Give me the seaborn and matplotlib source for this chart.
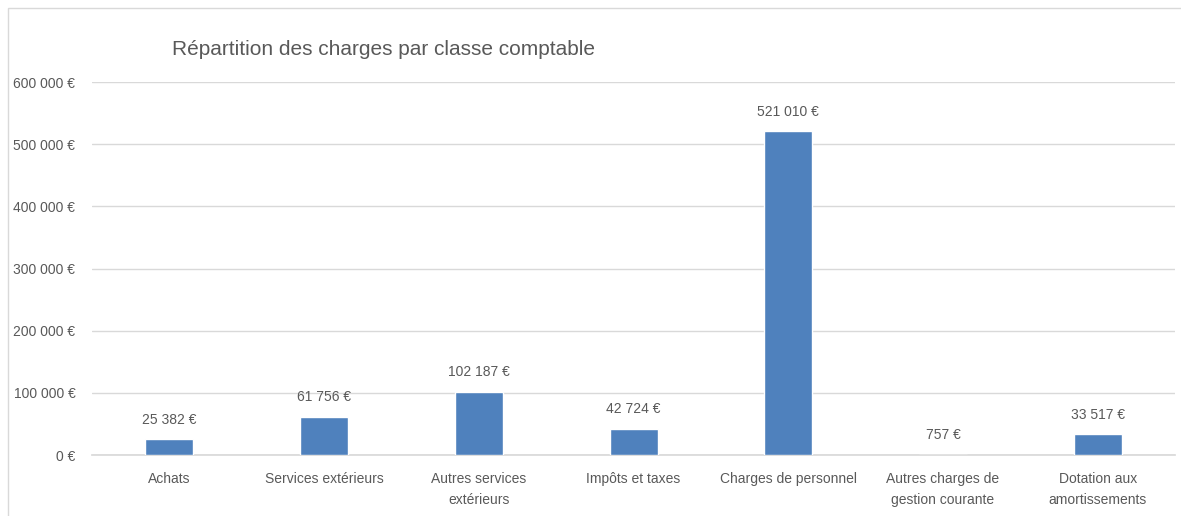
"""Répartition des charges par classe comptable - bar chart."""

import matplotlib

matplotlib.use("Agg")
import matplotlib.pyplot as plt
import matplotlib.patches as mpatches
import pandas as pd
import seaborn as sns
from matplotlib.ticker import FuncFormatter, MultipleLocator

categories = [
    "Achats",
    "Services extérieurs",
    "Autres services\nextérieurs",
    "Impôts et taxes",
    "Charges de personnel",
    "Autres charges de\ngestion courante",
    "Dotation aux\namortissements",
]
values = [25382, 61756, 102187, 42724, 521010, 757, 33517]
title = "Répartition des charges par classe comptable"

BAR = "#4F81BD"
TEXT = "#595959"
GRID = "#D9D9D9"


def euro(v, _pos=None):
    return f"{int(round(v)):,} €".replace(",", " ")


sns.set_theme(style="white")
plt.rcParams["font.family"] = ["Liberation Sans", "DejaVu Sans"]

df = pd.DataFrame({"classe": categories, "montant": values})

fig = plt.figure(figsize=(11.81, 5.16), dpi=100)
ax = fig.add_axes([0.078, 0.118, 0.917, 0.723])

sns.barplot(data=df, x="classe", y="montant", color=BAR, saturation=1,
            width=0.31, ax=ax, zorder=3)

ax.set_ylim(0, 600000)
ax.yaxis.set_major_locator(MultipleLocator(100000))
ax.yaxis.set_major_formatter(FuncFormatter(euro))
ax.grid(axis="y", color=GRID, linewidth=1, zorder=0)
ax.set_axisbelow(True)
for side in ["left", "right", "top"]:
    ax.spines[side].set_visible(False)
ax.spines["bottom"].set_color(GRID)
ax.set_xlabel("")
ax.set_ylabel("")
ax.tick_params(axis="y", labelsize=10, colors=TEXT, length=0, pad=12)
ax.tick_params(axis="x", labelsize=10, colors=TEXT, length=0, pad=12)
for lbl in ax.get_xticklabels():
    lbl.set_linespacing(1.7)
ax.set_xlim(-0.5, len(categories) - 0.5)

for i, v in enumerate(values):
    ax.annotate(euro(v), (i, v), xytext=(0, 9), textcoords="offset points",
                ha="center", va="bottom", fontsize=10, color=TEXT)

fig.text(0.146, 0.905, title, fontsize=15, color=TEXT, ha="left", va="center")

# chart area border
fig.patches.append(mpatches.Rectangle((8 / 1181, -0.1), 1.2, 1 - 8 / 516 + 0.1,
                                      transform=fig.transFigure, fill=False,
                                      edgecolor=GRID, linewidth=1))

fig.savefig("out.png", dpi=100)
plt.close(fig)
